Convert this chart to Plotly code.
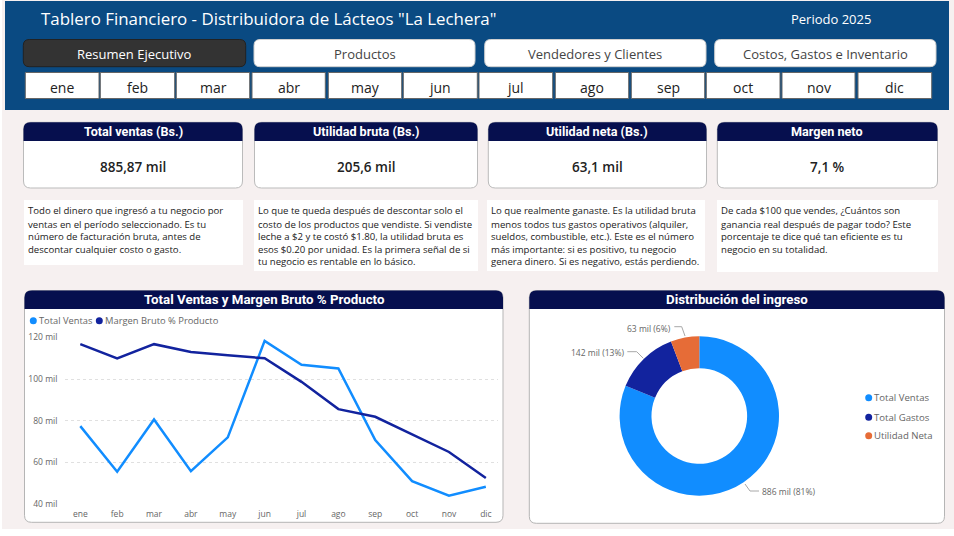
import plotly.graph_objects as go

W, H = 954, 536

# ---------- data ----------
months = ["ene", "feb", "mar", "abr", "may", "jun", "jul", "ago", "sep", "oct", "nov", "dic"]
total_ventas = [77.4, 55.5, 80.6, 55.8, 72.0, 118.4, 106.9, 105.1, 70.7, 51.0, 44.0, 48.3]
margen_bruto = [116.8, 110.0, 116.8, 113.0, 111.5, 110.0, 98.7, 85.6, 81.9, 73.3, 65.0, 52.5]
y_ticks = [40, 60, 80, 100, 120]
y_tick_labels = ["40 mil", "60 mil", "80 mil", "100 mil", "120 mil"]
dist_labels = ["Total Ventas", "Total Gastos", "Utilidad Neta"]
dist_values = [886, 142, 63]
dist_text = ["886 mil (81%)", "142 mil (13%)", "63 mil (6%)"]
tabs = ["Resumen Ejecutivo", "Productos", "Vendedores y Clientes", "Costos, Gastos e Inventario"]
kpi_titles = ["Total ventas (Bs.)", "Utilidad bruta (Bs.)", "Utilidad neta (Bs.)", "Margen neto"]
kpi_values = ["885,87 mil", "205,6 mil", "63,1 mil", "7,1 %"]
descriptions = [
    ["Todo el dinero que ingresó a tu negocio por", "ventas en el período seleccionado. Es tu",
     "número de facturación bruta, antes de", "descontar cualquier costo o gasto."],
    ["Lo que te queda después de descontar solo el", "costo de los productos que vendiste. Si vendiste",
     "leche a $2 y te costó $1.80, la utilidad bruta es", "esos $0.20 por unidad. Es la primera señal de si",
     "tu negocio es rentable en lo básico."],
    ["Lo que realmente ganaste. Es la utilidad bruta", "menos todos tus gastos operativos (alquiler,",
     "sueldos, combustible, etc.). Este es el número", "más importante: si es positivo, tu negocio",
     "genera dinero. Si es negativo, estás perdiendo."],
    ["De cada $100 que vendes, ¿Cuántos son", "ganancia real después de pagar todo? Este",
     "porcentaje te dice qué tan eficiente es tu", "negocio en su totalidad."],
]

# ---------- palette / fonts ----------
BG = "#F6F0F0"
HEADER = "#0A4A82"
NAVY = "#060F4E"
BLUE = "#118DFF"
DKBLUE = "#12239E"
ORANGE = "#E66C37"
GREY = "#666666"
BODY = "Open Sans"
HEAD = "Roboto"


def px(x):
    return x / W


def py(y):
    return 1 - y / H


shapes, annotations = [], []


def rect(x0, y0, x1, y1, fill, line=None, lw=1, layer="below"):
    shapes.append(dict(type="rect", xref="paper", yref="paper", x0=px(x0), x1=px(x1), y0=py(y1), y1=py(y0),
                       fillcolor=fill, line=dict(color=line or fill, width=lw if line else 0), layer=layer))


def rpath(x0, y0, x1, y1, r=6, top_only=False):
    a = lambda x, y: f"{px(x)} {py(y)}"
    if top_only:
        return (f"M {a(x0, y1)} L {a(x0, y0 + r)} Q {a(x0, y0)} {a(x0 + r, y0)} L {a(x1 - r, y0)} "
                f"Q {a(x1, y0)} {a(x1, y0 + r)} L {a(x1, y1)} Z")
    return (f"M {a(x0, y1 - r)} L {a(x0, y0 + r)} Q {a(x0, y0)} {a(x0 + r, y0)} L {a(x1 - r, y0)} "
            f"Q {a(x1, y0)} {a(x1, y0 + r)} L {a(x1, y1 - r)} Q {a(x1, y1)} {a(x1 - r, y1)} "
            f"L {a(x0 + r, y1)} Q {a(x0, y1)} {a(x0, y1 - r)} Z")


def rrect(x0, y0, x1, y1, fill, line=None, r=6, top_only=False, lw=1):
    shapes.append(dict(type="path", xref="paper", yref="paper", path=rpath(x0, y0, x1, y1, r, top_only),
                       fillcolor=fill, line=dict(color=line or fill, width=lw if line else 0), layer="below"))


def text(x, y, s, size, color="#222222", family=BODY, anchor="center", weight=400):
    annotations.append(dict(x=px(x), y=py(y), xref="paper", yref="paper", text=s, showarrow=False,
                            xanchor=anchor, yanchor="middle", borderpad=0, borderwidth=0,
                            font=dict(size=size, color=color, family=family, weight=weight)))


def dot(x, y, color, r=3.5):
    shapes.append(dict(type="circle", xref="paper", yref="paper", x0=px(x - r), x1=px(x + r), y0=py(y + r),
                       y1=py(y - r), fillcolor=color, line=dict(width=0), layer="above"))


def leader(points):
    path = "M " + " L ".join(f"{px(x)} {py(y)}" for x, y in points)
    shapes.append(dict(type="path", xref="paper", yref="paper", path=path, line=dict(color="#A8A8A8", width=1),
                       layer="above"))


# ---------- header ----------
rect(2, 0, W, 529, BG)
rect(5, 1, 949, 110, HEADER)
text(41, 18, 'Tablero Financiero - Distribuidora de Lácteos "La Lechera"', 16.9, "#FFFFFF", anchor="left")
text(830.5, 19, "Periodo 2025", 13, "#FFFFFF")

tab_boxes = [(23.3, 245.7), (254, 475), (484.7, 706), (714.7, 936)]
for i, (lbl, (x0, x1)) in enumerate(zip(tabs, tab_boxes)):
    active = i == 0
    rrect(x0, 39.5, x1, 66.7, "#333333" if active else "#FFFFFF", "#222222" if active else "#D0D0D0", r=6)
    text((x0 + x1) / 2, 54, lbl, 13, "#FFFFFF" if active else "#444444")

month_boxes = [(25.3, 99), (100.3, 174.7), (176.3, 249.7), (252, 325.3), (328.3, 401.7), (403.3, 477.3),
               (479, 552.7), (555.3, 628.7), (631.3, 704.7), (706.3, 780), (782, 855), (858, 931.7)]
for m, (x0, x1) in zip(months, month_boxes):
    rect(x0, 72.5, x1, 98.5, "#FFFFFF", "#666666", 1)
    text((x0 + x1) / 2, 87, m, 14, "#222222")

# ---------- KPI cards ----------
card_boxes = [(23.5, 242.5), (254.5, 477.5), (488.3, 706.5), (717.3, 937.5)]
for t, v, (x0, x1) in zip(kpi_titles, kpi_values, card_boxes):
    rrect(x0, 122.3, x1, 188, "#FFFFFF", "#BBBBBB", r=7)
    rrect(x0, 122.3, x1, 141, NAVY, r=7, top_only=True)
    text((x0 + x1) / 2, 131.5, t, 12.6, "#FFFFFF", HEAD, weight=700)
    text((x0 + x1) / 2, 166.7, v, 13.5, "#222222", BODY, weight=600)

# ---------- descriptions ----------
desc_boxes = [(24, 200, 243, 265), (254, 200, 478, 271), (487, 200, 705, 271), (717, 200, 938, 272)]
desc_left = [28, 258, 491, 721]
line_y = [210.7, 224, 236.7, 249.7, 261.7]
for lines, (x0, y0, x1, y1), lx in zip(descriptions, desc_boxes, desc_left):
    rect(x0, y0, x1, y1, "#FFFFFF")
    for ln, ly in zip(lines, line_y):
        text(lx, ly, ln, 9.6, "#222222", anchor="left")

# ---------- chart panels ----------
rrect(24.5, 290.5, 503, 522.3, "#FFFFFF", "#B5B5B5", r=7)
rrect(24.5, 290.5, 503, 309, NAVY, r=7, top_only=True)
text(264.5, 299.8, "Total Ventas y Margen Bruto % Producto", 13.3, "#FFFFFF", HEAD, weight=700)
rrect(529.3, 290.5, 944.5, 523.3, "#FFFFFF", "#B5B5B5", r=7)
rrect(529.3, 290.5, 944.5, 309, NAVY, r=7, top_only=True)
text(737, 299.8, "Distribución del ingreso", 13.3, "#FFFFFF", HEAD, weight=700)

# line-chart legend
dot(33.3, 320.7, BLUE)
text(38.5, 320.7, "Total Ventas", 9.3, GREY, anchor="left")
dot(99.3, 320.7, DKBLUE)
text(105, 320.7, "Margen Bruto % Producto", 9.4, GREY, anchor="left")

# donut legend
for lbl, color, ly in zip(dist_labels, [BLUE, DKBLUE, ORANGE], [397.7, 417.3, 435.7]):
    dot(868.7, ly, color)
    text(874.3, ly, lbl, 9.6, GREY, anchor="left")

# donut labels and leaders
text(761.7, 491.7, dist_text[0], 8.5, GREY, anchor="left")
text(624.3, 352.7, dist_text[1], 8.5, GREY, anchor="right")
text(671, 328.7, dist_text[2], 8.5, GREY, anchor="right")
leader([(745, 484), (750, 491), (759, 491)])
leader([(627.3, 351.7), (636.7, 351.7), (643.3, 358.3)])
leader([(674.3, 326.7), (681.7, 326.7), (685, 336)])

# ---------- figure ----------
fig = go.Figure()
fig.add_trace(go.Scatter(x=months, y=total_ventas, mode="lines", name="Total Ventas",
                         line=dict(color=BLUE, width=2.5), showlegend=False))
fig.add_trace(go.Scatter(x=months, y=margen_bruto, mode="lines", name="Margen Bruto % Producto",
                         line=dict(color=DKBLUE, width=2.5), showlegend=False))
fig.add_trace(go.Pie(labels=dist_labels, values=dist_values, hole=0.6, sort=False, direction="clockwise",
                     rotation=0, textinfo="none", showlegend=False,
                     marker=dict(colors=[BLUE, DKBLUE, ORANGE], line=dict(width=0)),
                     domain=dict(x=[px(699.3 - 79.7), px(699.3 + 79.7)], y=[py(416 + 79.7), py(416 - 79.7)])))

fig.update_layout(
    template="none",
    width=W, height=H, autosize=False, margin=dict(l=0, r=0, t=0, b=0, pad=0, autoexpand=False),
    paper_bgcolor="#FFFFFF", plot_bgcolor="rgba(0,0,0,0)",
    shapes=shapes, annotations=annotations, font=dict(family=BODY),
    xaxis=dict(domain=[px(65), px(498)], range=[-0.415, 11.33], type="category", categoryorder="array",
               categoryarray=months, showgrid=False, showline=False, zeroline=False, ticks="outside", ticklen=2,
               automargin=False, tickcolor="rgba(0,0,0,0)", tickfont=dict(size=8.5, color=GREY, family=BODY)),
    yaxis=dict(domain=[py(504), py(337.5)], range=[40, 120], tickvals=y_ticks, ticktext=y_tick_labels,
               showgrid=True, gridcolor="#E0E0E0", griddash="dot", gridwidth=1, zeroline=False, showline=False,
               automargin=False, ticks="outside", ticklen=5, tickcolor="rgba(0,0,0,0)",
               tickfont=dict(size=8.5, color=GREY, family=BODY)),
)

fig.write_html("out.html", config={"displayModeBar": False},
               post_script="document.body.style.margin='0';document.documentElement.style.overflow='hidden';")
